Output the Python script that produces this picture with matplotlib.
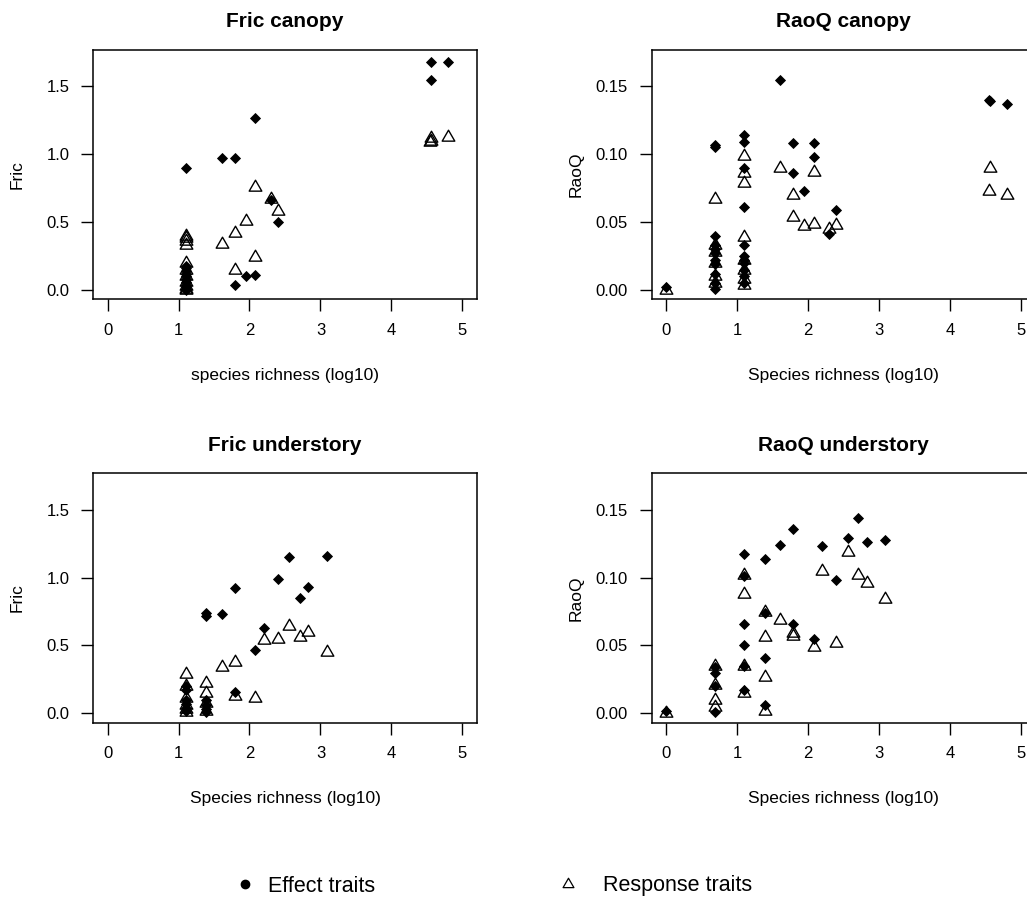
import matplotlib
matplotlib.use("Agg")
import matplotlib.pyplot as plt
from matplotlib.path import Path
from matplotlib.lines import Line2D

plt.rcParams['font.family'] = ['Liberation Sans', 'DejaVu Sans']

# Fric canopy
fc_eff_x = [4.56, 4.80, 4.55, 2.08, 1.61, 1.79, 1.10, 2.30, 2.40, 1.79, 1.95, 2.08,
            1.10, 1.10, 1.10, 1.10, 1.10, 1.10, 1.10, 1.10, 1.10, 1.10, 1.10]
fc_eff_y = [1.68, 1.68, 1.55, 1.27, 0.97, 0.97, 0.90, 0.66, 0.50, 0.04, 0.10, 0.11,
            0.00, 0.01, 0.02, 0.04, 0.06, 0.08, 0.10, 0.12, 0.14, 0.16, 0.18]
fc_res_x = [4.55, 4.56, 4.54, 4.80, 2.08, 2.30, 2.40, 1.95, 1.79, 1.61, 2.08, 1.79,
            1.10, 1.10, 1.10, 1.10, 1.10, 1.10, 1.10, 1.10, 1.10, 1.10, 1.10]
fc_res_y = [1.12, 1.10, 1.09, 1.13, 0.76, 0.67, 0.58, 0.51, 0.42, 0.34, 0.24, 0.15,
            0.40, 0.38, 0.36, 0.33, 0.20, 0.15, 0.10, 0.06, 0.03, 0.01, 0.00]

# RaoQ canopy
rc_eff_x = [1.61, 4.55, 4.56, 4.80, 0.69, 0.69, 1.10, 1.10, 1.79, 2.08, 2.08, 1.10,
            1.79, 1.95, 1.10, 2.40, 2.30,
            0.69, 0.69, 0.69, 0.69, 0.69, 0.69, 0.69, 0.69, 0.69,
            1.10, 1.10, 1.10, 1.10, 1.10, 1.10, 1.10, 0.00]
rc_eff_y = [0.155, 0.140, 0.139, 0.137, 0.107, 0.105, 0.114, 0.109, 0.108, 0.108, 0.098, 0.090,
            0.086, 0.073, 0.061, 0.059, 0.041,
            0.040, 0.033, 0.030, 0.027, 0.022, 0.019, 0.012, 0.005, 0.001,
            0.033, 0.025, 0.022, 0.020, 0.015, 0.010, 0.005, 0.002]
rc_res_x = [4.56, 4.55, 4.80, 1.61, 2.08, 1.79, 1.79, 1.95, 2.08, 2.30, 2.40, 0.69,
            0.69, 0.69, 0.69, 0.69, 0.69,
            1.10, 1.10, 1.10, 1.10, 1.10, 1.10, 1.10, 1.10, 0.00]
rc_res_y = [0.090, 0.073, 0.070, 0.090, 0.087, 0.070, 0.054, 0.047, 0.049, 0.045, 0.048, 0.067,
            0.033, 0.028, 0.020, 0.010, 0.005,
            0.099, 0.086, 0.079, 0.039, 0.022, 0.015, 0.008, 0.004, 0.000]

# Fric understory
fu_eff_x = [3.09, 2.56, 2.40, 2.83, 2.71, 1.79, 1.39, 1.39, 1.61, 2.20, 2.08, 1.79,
            1.10, 1.10, 1.10, 1.10, 1.10, 1.10, 1.39, 1.39, 1.39, 1.39]
fu_eff_y = [1.16, 1.15, 0.99, 0.93, 0.85, 0.92, 0.74, 0.72, 0.73, 0.63, 0.47, 0.16,
            0.20, 0.17, 0.10, 0.07, 0.04, 0.02, 0.10, 0.06, 0.03, 0.01]
fu_res_x = [2.56, 2.83, 2.71, 2.40, 2.20, 3.09, 1.79, 1.61, 2.08, 1.79,
            1.10, 1.10, 1.10, 1.10, 1.10, 1.10, 1.39, 1.39, 1.39, 1.39]
fu_res_y = [0.64, 0.60, 0.56, 0.55, 0.54, 0.45, 0.38, 0.34, 0.11, 0.13,
            0.29, 0.20, 0.11, 0.06, 0.03, 0.01, 0.22, 0.15, 0.08, 0.02]

# RaoQ understory
ru_eff_x = [2.71, 1.79, 2.56, 3.09, 2.83, 1.61, 2.20, 1.10, 1.39, 2.40, 1.10, 1.39,
            1.79, 1.10, 2.08, 1.10, 1.39, 0.69, 0.69, 0.69, 0.69, 1.10, 1.39, 0.00, 1.10]
ru_eff_y = [0.144, 0.136, 0.129, 0.128, 0.126, 0.124, 0.123, 0.117, 0.114, 0.098, 0.101, 0.074,
            0.066, 0.066, 0.055, 0.050, 0.041, 0.034, 0.030, 0.020, 0.001, 0.017, 0.006, 0.002, 0.035]
ru_res_x = [2.56, 2.20, 2.71, 2.83, 3.09, 1.10, 1.10, 1.39, 1.61, 1.79, 1.79, 1.39,
            2.08, 2.40, 1.10, 1.39, 1.10, 1.39, 0.69, 0.69, 0.69, 0.69, 0.00]
ru_res_y = [0.119, 0.105, 0.102, 0.096, 0.084, 0.102, 0.088, 0.075, 0.069, 0.059, 0.057, 0.056,
            0.049, 0.052, 0.035, 0.027, 0.015, 0.002, 0.035, 0.021, 0.010, 0.005, 0.000]

fric_ticks = [0.0, 0.5, 1.0, 1.5]
fric_labels = ["0.0", "0.5", "1.0", "1.5"]
rao_ticks = [0.00, 0.05, 0.10, 0.15]
rao_labels = ["0.00", "0.05", "0.10", "0.15"]
x_ticks = [0, 1, 2, 3, 4, 5]

W, H = 1027, 902
fig = plt.figure(figsize=(W / 100, H / 100), dpi=100)

# R style open triangle (pch = 2)
tri = Path([(0, 1.555), (-1.347, -0.778), (1.347, -0.778), (0, 1.555)],
           [Path.MOVETO, Path.LINETO, Path.LINETO, Path.CLOSEPOLY])


def panel(left, top, title, ylab, xlab, ex, ey, rx, ry, ylim, yt, ytl):
    ax = fig.add_axes([left / W, 1 - (top + 249.3) / H, 383.4 / W, 249.3 / H])
    ax.plot(ex, ey, ls='none', marker='D', ms=5.0, color='black', mec='black', mew=0.6)
    ax.plot(rx, ry, ls='none', marker=tri, ms=10.5, mfc='none', mec='black', mew=1.0)
    ax.set_xlim(-0.2, 5.2)
    r = ylim[1] - ylim[0]
    ax.set_ylim(ylim[0] - 0.04 * r, ylim[1] + 0.04 * r)
    ax.set_xticks(x_ticks)
    ax.set_xticklabels([str(t) for t in x_ticks])
    ax.set_yticks(yt)
    ax.set_yticklabels(ytl)
    ax.tick_params(direction='out', length=8.5, width=1.0, labelsize=12, pad=8.5)
    for s in ax.spines.values():
        s.set_linewidth(1.1)
    ax.set_title(title, fontsize=15, fontweight='bold', pad=16.3)
    ax.set_xlabel(xlab, fontsize=12.5)
    ax.set_ylabel(ylab, fontsize=12.5)
    ax.xaxis.set_label_coords(0.5, -0.274)
    ax.yaxis.set_label_coords(-0.178, 0.5)
    return ax


panel(93.3, 50, "Fric canopy", "Fric", "species richness (log10)",
      fc_eff_x, fc_eff_y, fc_res_x, fc_res_y, (0, 1.7), fric_ticks, fric_labels)
panel(651.7, 50, "RaoQ canopy", "RaoQ", "Species richness (log10)",
      rc_eff_x, rc_eff_y, rc_res_x, rc_res_y, (0, 0.17), rao_ticks, rao_labels)
panel(93.3, 473.3, "Fric understory", "Fric", "Species richness (log10)",
      fu_eff_x, fu_eff_y, fu_res_x, fu_res_y, (0, 1.7), fric_ticks, fric_labels)
panel(651.7, 473.3, "RaoQ understory", "RaoQ", "Species richness (log10)",
      ru_eff_x, ru_eff_y, ru_res_x, ru_res_y, (0, 0.17), rao_ticks, rao_labels)

h1 = Line2D([], [], ls='none', marker='o', ms=6, color='black')
h2 = Line2D([], [], ls='none', marker=tri, ms=9, mfc='none', mec='black', mew=0.9)
fig.legend([h1], ["Effect traits"], loc='center left', bbox_to_anchor=(234 / W, 1 - 886 / H),
           frameon=False, fontsize=15.5, handlelength=1.0, handletextpad=0.6,
           borderpad=0, borderaxespad=0)
fig.legend([h2], ["Response traits"], loc='center left', bbox_to_anchor=(557 / W, 1 - 886 / H),
           frameon=False, fontsize=15.5, handlelength=1.0, handletextpad=1.15,
           borderpad=0, borderaxespad=0)

fig.savefig("out.png", dpi=100)
